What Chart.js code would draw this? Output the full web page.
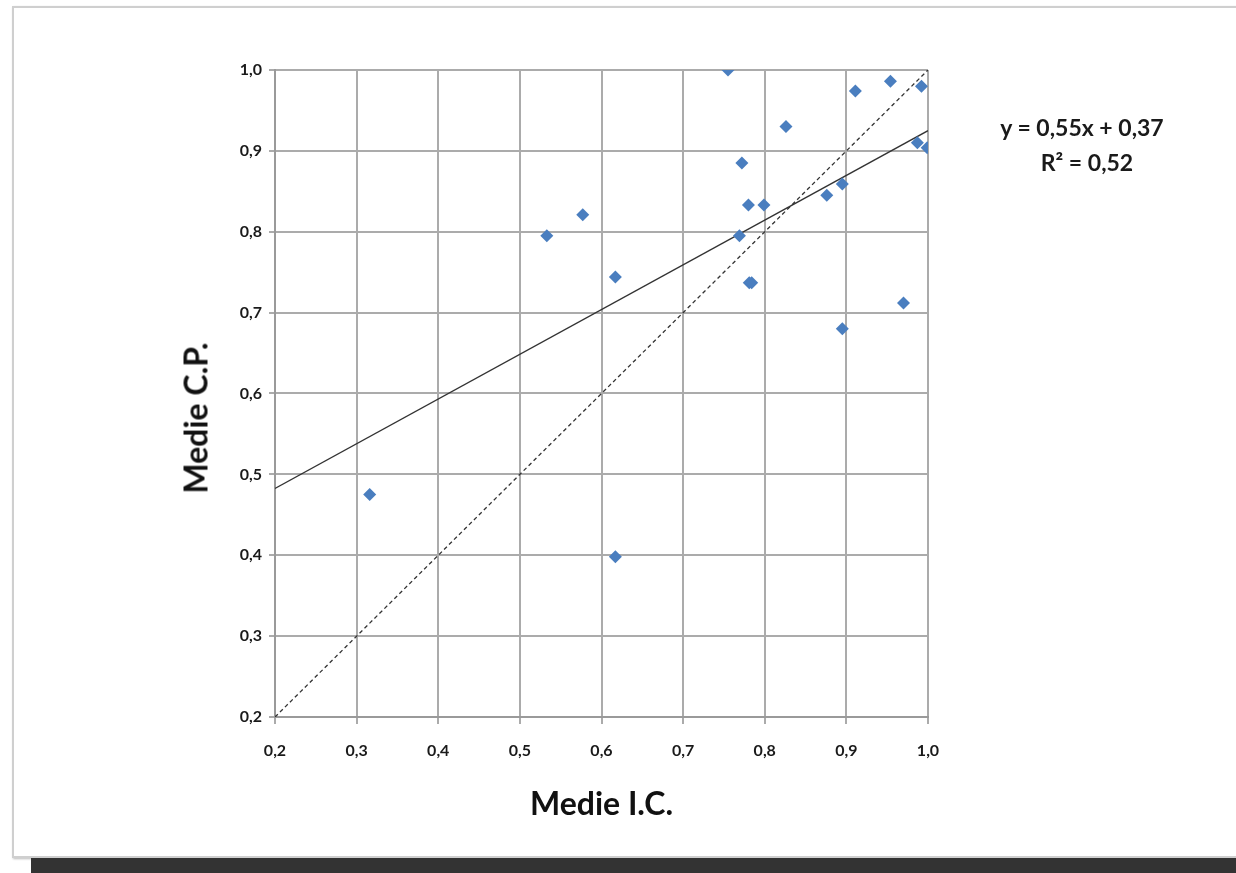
<!DOCTYPE html>
<html>
<head>
  <title>Medie I.C. vs Medie C.P.</title>
  <script src="https://cdn.jsdelivr.net/npm/chart.js"></script>
  <style>
    body { margin: 0; background: #fff; width: 1236px; height: 873px; overflow: hidden; position: relative; font-family: Lato, 'Open Sans', sans-serif; }
    .frame { position: absolute; left: 12px; top: 6px; width: 1260px; height: 848px; border: 2px solid #cfcfcf; box-shadow: 1px 1px 2px #bbb; }
    .bar { position: absolute; left: 31px; top: 858px; width: 1205px; height: 15px; background: #333; }
    #chart { position: absolute; left: 0; top: 0; }
    .eq { position: absolute; left: 966px; width: 232px; text-align: center; font-weight: bold; font-size: 23px; color: #1a1a1a; }
    .ytitle { position: absolute; left: 195px; top: 418px; transform: translate(-50%, -50%) rotate(-90deg); white-space: nowrap; font-weight: bold; font-size: 32px; color: #111; }
  </style>
</head>
<body>
  <div class="frame"></div>
  <div class="bar"></div>
  <canvas id="chart" width="1236" height="873"></canvas>
  <div class="eq" style="top:113px">y = 0,55x + 0,37</div>
  <div class="eq" style="top:148px; left:971px">R² = 0,52</div>
  <div class="ytitle">Medie C.P.</div>

  <script>
    // valori
    const medieIC = [0.755, 0.954, 0.992, 0.911, 0.826, 0.987, 0.999, 0.772, 0.876, 0.895, 0.780,
                     0.799, 0.577, 0.533, 0.769, 0.617, 0.781, 0.784, 0.970, 0.895, 0.316, 0.617];
    const medieCP = [1.000, 0.986, 0.980, 0.974, 0.930, 0.910, 0.904, 0.885, 0.845, 0.859, 0.833,
                     0.833, 0.821, 0.795, 0.795, 0.744, 0.737, 0.737, 0.712, 0.680, 0.475, 0.398];
    const tickLabels = ['0,2', '0,3', '0,4', '0,5', '0,6', '0,7', '0,8', '0,9', '1,0'];
    const trendSlope = 0.553;
    const trendIntercept = 0.372;
    const diagEnds = [0.2, 1.0];

    const points = medieIC.map((x, i) => ({ x: x, y: medieCP[i] }));
    const trend = diagEnds.map(x => ({ x: x, y: trendSlope * x + trendIntercept }));
    const diag = diagEnds.map(x => ({ x: x, y: x }));

    const tickFont = { family: 'Lato', size: 16, weight: 'bold' };
    const lbl = (v) => tickLabels[Math.round((v - 0.2) * 10)] || '';

    new Chart(document.getElementById('chart'), {
      type: 'scatter',
      data: {
        datasets: [
          { data: points, pointStyle: 'rectRot', pointRadius: 6.5, backgroundColor: '#4a7ebf', borderColor: '#4a7ebf', borderWidth: 0, order: 0 },
          { type: 'line', data: trend, borderColor: '#333', borderWidth: 1.3, pointRadius: 0, fill: false, order: 1 },
          { type: 'line', data: diag, borderColor: '#333', borderWidth: 1.3, borderDash: [4, 3], pointRadius: 0, fill: false, order: 2 }
        ]
      },
      options: {
        responsive: false,
        animation: false,
        devicePixelRatio: 1,
        layout: { padding: { left: 0, top: 70, right: 308, bottom: 0 } },
        plugins: { legend: { display: false }, tooltip: { enabled: false } },
        scales: {
          x: {
            type: 'linear', min: 0.2, max: 1.0,
            afterFit: (s) => { s.height = 156; },
            afterBuildTicks: (s) => { s.ticks = tickLabels.map((t, i) => ({ value: 0.2 + i * 0.1 })); },
            grid: { color: '#ababab', lineWidth: 2, tickLength: 7, tickColor: '#ababab' },
            border: { color: '#9a9a9a', width: 2 },
            ticks: { font: tickFont, color: '#1a1a1a', padding: 17, maxRotation: 0, callback: lbl },
            title: { display: true, text: 'Medie I.C.', font: { family: 'Lato', size: 32, weight: 'bold' }, color: '#111', padding: { top: 0, bottom: 49 } }
          },
          y: {
            type: 'linear', min: 0.2, max: 1.0,
            afterFit: (s) => { s.width = 275; },
            afterBuildTicks: (s) => { s.ticks = tickLabels.map((t, i) => ({ value: 0.2 + i * 0.1 })); },
            grid: { color: '#ababab', lineWidth: 2, tickLength: 6, tickColor: '#ababab' },
            border: { color: '#9a9a9a', width: 2 },
            ticks: { font: tickFont, color: '#1a1a1a', padding: 7, callback: lbl }
          }
        }
      }
    });
  </script>
</body>
</html>
